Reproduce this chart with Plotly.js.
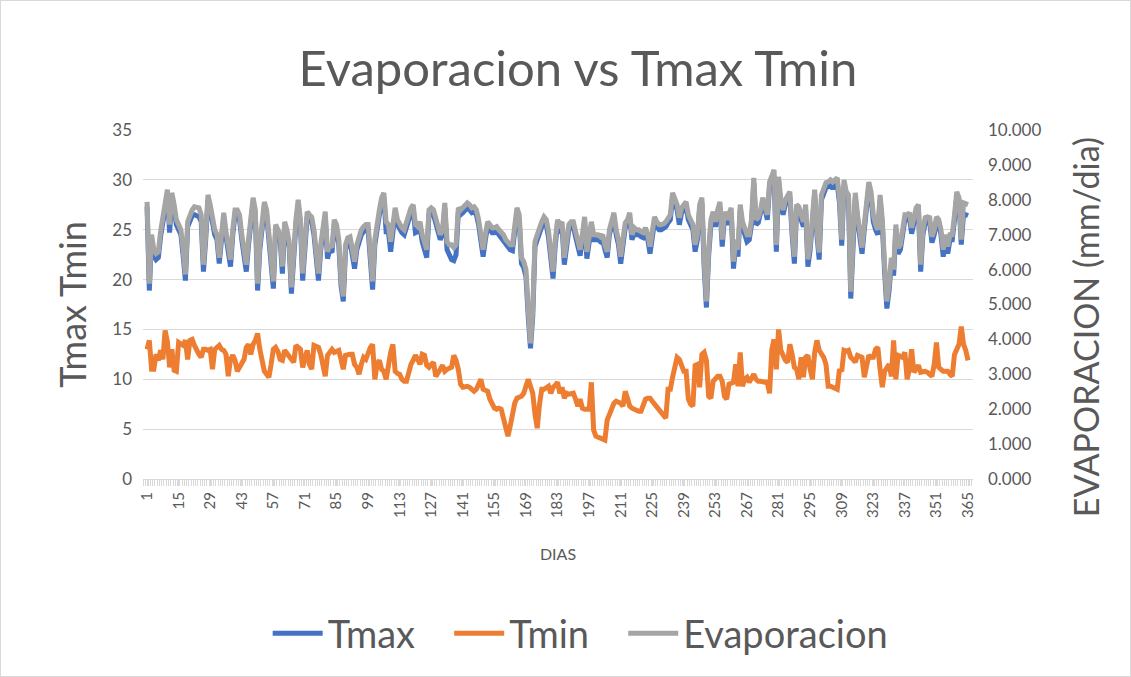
<!DOCTYPE html>
<html>
<head>
<meta charset="utf-8">
<script src="https://cdn.plot.ly/plotly-3.0.1.min.js"></script>
<style>
html,body{margin:0;padding:0;background:#fff;}
#chart{width:1131px;height:677px;box-sizing:border-box;border:1px solid #d9d9d9;}
</style>
</head>
<body>
<div id="chart"></div>
<script>
var tmax = [
27.3,18.9,24,22.4,22,22.2,24.3,25.7,27,28.5,
24.7,28.2,27,25.5,25,24.5,22.4,19.9,25.3,25.9,
26.4,26.5,26.4,26.3,25.8,20.8,24,28,27,25.3,
24.5,24,21.6,24,26.2,24.3,22.6,21.3,24.5,26.5,
26.4,26,24,21.9,20.8,23.5,25.5,27.7,26.5,18.9,
23,25.5,27.2,26.5,24,20.9,19.1,25,24.5,24,
20.6,25.3,24.5,23.3,18.6,23,25.5,27.5,25.5,19.9,
24,26.3,26,25.8,24.5,21.9,19.9,23,25,26.3,
22.1,23,22.7,25.5,25,23.5,19.4,17.8,23,23.7,
23.8,22.5,21.1,23,24,24.5,24.8,25,25,22.4,
19,23.5,25.3,26.5,27.7,28.2,24.8,24.8,22.8,25,
26.7,25.5,25,24.7,24.5,25.3,26,26.7,27,24.7,
24.8,25.3,23.8,22.8,22.2,26.5,26.7,26.5,25.5,24.5,
24,24.5,27.2,23,22.4,22,21.9,22.5,26.7,26.5,
26.7,27,27.2,27,26.7,26.8,26.5,25.5,23.3,22.3,
24,25.3,25,24.7,24.7,24.8,24.5,24.2,24,23.5,
23.3,23,22.9,25,26.7,26,21.6,21.2,20.3,16.3,
13.1,16.3,23.3,24,24.8,25.3,25.8,25.5,24.2,22.4,
20.1,23.5,25.5,25,25.3,21.5,23,25,25.3,25.3,
24.3,23.5,22.4,24,25.8,22.1,24,25.3,24,24,
24,23.8,24,23,22.2,24.5,25.3,26.2,24.5,23.5,
21.6,23.5,25.2,25.5,26.2,24,24.7,24.5,24.5,24.3,
24.2,24.7,24,22.6,24,25.8,25.3,25,25,25.1,
25.3,25.7,26,28.2,27.7,27,25.5,26.7,27,27.3,
26,25.5,25,22.8,24,27,27.7,21.3,17.2,22.4,
25.5,26.3,25.3,26.5,27.3,23.3,26.3,25.5,26,26.7,
21.1,23.5,22.3,27,25.3,24.5,23.8,24,25.5,29.7,
25.5,25.7,26.5,27.7,27,26,29.3,30,30.4,22.8,
29.8,27.5,26.5,27.5,28,28.3,24.5,21.6,27,26.8,
26,25.3,27,21.3,23,26,28.5,24.5,22,28,
28.5,29.2,29.3,29.5,29.1,29.5,29.6,27.7,23.4,29.5,
28.3,28,18.1,23.4,28.2,26,24.4,22.6,25,27.5,
29.3,28.3,25.8,25,24.5,28,25.4,20.8,17.1,18.9,
21.6,20.4,25,22.6,23,24.5,26,26,26.2,24.6,
25.5,26.7,27,20.8,24.5,25.7,25.8,25.7,23.7,24.5,
25.8,25.5,24.5,22.3,24,22.6,24,24,26,28.3,
27.7,23.5,26.6,26.5,26.4
];
var tmin = [
13,13.9,11,11,12.5,11.9,12.9,12,14.9,13.8,
11.2,13,10.9,10.8,13.7,13.5,13.4,13.9,12,13.9,
14,13.4,12.8,12.5,12.2,13,13,12.9,13,11,
13,13.2,13.4,13,12.9,12.5,10.3,12,12.4,11.9,
10.8,11.2,11.5,12,13.2,13.5,12.5,13.5,13.9,14.6,
13,11.9,10.8,10.5,10.2,11.5,13,13.2,12.8,12,
11.9,12.9,12.6,12.4,11.9,11.7,13.4,13.2,13,11.2,
12,12.9,11.5,11,13.4,13.3,13.2,12.5,11,10.3,
12.4,12.8,13,12.7,12.8,12.9,12,11,12.4,12.5,
12.5,12.5,11.5,11.2,10.5,11.5,12.2,12,12.8,13.2,
13.5,10,11.5,11.9,11,10.8,10,11.5,12.7,13.5,
10.8,10.6,10.5,10,9.8,9.8,10.7,11.5,11.9,12.4,
12,11.5,12.5,12.4,11.4,11.2,11.5,11.7,10.3,10.8,
11,11.4,10.8,11,11.1,11.2,12.4,11.9,11,9.5,
9.2,9.3,9.3,9.2,9,8.8,9,9.5,10,9,
8.9,8.8,8,7.4,7.1,7,7.1,7,6.1,4.8,
4.3,5.3,6.5,7.6,8.1,8.2,8.3,8.6,9.2,10,
9.3,8.6,6.5,5.1,7.5,9,9,9.2,9.3,8.6,
9.2,9.4,9.7,8.6,9.2,8.1,8.6,8.5,8.5,8.6,
8,7.3,8,7.1,7,7,7,9.7,4.9,4.3,
4.2,4.1,4.1,3.9,5.9,6.5,7.2,7.6,7.8,7.7,
7.6,7.3,8.8,8.1,7.3,7.1,7,6.8,6.8,6.8,
7.5,8,8.1,8.1,7.8,7.5,7.3,7,6.7,6.3,
6.1,9,9,10.2,11.2,12.2,12,11.5,10.8,10.8,
8,7.5,7.3,11.4,11.5,9.2,12.5,12.7,11.9,8.3,
8.1,9.8,10,10.3,10.3,9.8,8.3,8,9.5,9.6,
9.7,11.5,9.3,12.7,9.3,10,10.2,9.7,10.2,10.5,
10,9.8,9.8,9.7,9.7,9.7,8.6,13,14,11,
15,12.9,12.2,11.9,11.7,13.5,12.5,11.2,11,10,
12.2,10.2,12.2,12.4,11,10,12.7,13.9,12.9,12.5,
12.2,11.5,9.3,9.3,9.2,9.2,9,11,10.8,12.9,
12.8,12.9,12.2,12,11.7,12.4,12.3,12.2,10.2,11.5,
12.4,12.2,12.2,13,13.2,11,9.2,10.8,11.2,11.5,
10.3,13.9,10,12.4,12.3,12.2,12.7,10,11,13,
10.7,11,11.4,10.7,10.8,10.8,10.7,10.5,10.3,11.5,
13.7,11.2,11,10.8,10.8,10.8,10.5,10.3,12.5,12.9,
13.5,15.3,13.5,12.9,11.9
];
var evaporacion = [
7.94,5.60,7.00,6.57,6.46,6.51,7.09,7.49,7.86,8.29,
7.29,8.20,7.86,7.43,7.29,7.14,6.57,5.86,7.37,7.57,
7.71,7.80,7.77,7.77,7.57,6.14,7.00,8.14,7.86,7.37,
7.14,7.00,6.34,7.00,7.63,7.09,6.63,6.29,7.14,7.71,
7.71,7.57,7.00,6.43,6.14,6.86,7.43,8.06,7.71,5.60,
6.71,7.43,7.94,7.71,7.00,6.14,5.66,7.29,7.14,7.00,
6.09,7.37,7.14,6.80,5.49,6.71,7.43,8.00,7.43,5.89,
7.00,7.66,7.57,7.51,7.14,6.43,5.89,6.71,7.29,7.66,
6.51,6.71,6.63,7.43,7.29,6.86,5.71,5.23,6.71,6.91,
6.94,6.57,6.23,6.71,7.00,7.14,7.23,7.29,7.29,6.57,
5.66,6.86,7.37,7.71,8.06,8.20,7.37,7.29,6.80,7.29,
7.77,7.43,7.29,7.20,7.14,7.37,7.57,7.77,7.86,7.29,
7.23,7.37,7.00,6.71,6.57,7.71,7.77,7.71,7.43,7.20,
7.00,7.14,7.91,6.80,6.71,6.71,6.63,6.71,7.77,7.71,
7.77,7.86,7.91,7.86,7.77,7.80,7.71,7.43,6.86,6.57,
7.00,7.37,7.29,7.20,7.20,7.23,7.14,7.06,7.00,6.86,
6.80,6.71,6.71,7.29,7.77,7.57,6.34,6.23,6.00,4.86,
3.89,4.86,6.80,7.00,7.23,7.37,7.51,7.43,7.09,6.57,
5.94,6.86,7.43,7.29,7.37,6.34,6.71,7.29,7.37,7.37,
7.09,6.86,6.57,7.00,7.51,6.51,7.00,7.37,7.00,7.00,
7.00,6.94,7.00,6.71,6.51,7.14,7.37,7.63,7.14,6.86,
6.37,6.86,7.34,7.43,7.63,7.00,7.20,7.14,7.14,7.09,
7.06,7.20,7.00,6.66,7.00,7.51,7.37,7.29,7.29,7.31,
7.37,7.49,7.57,8.20,8.06,7.86,7.49,7.77,7.86,7.94,
7.57,7.43,7.29,6.71,7.00,7.86,8.06,6.29,5.09,6.57,
7.43,7.66,7.37,7.71,7.94,6.86,7.66,7.43,7.57,7.77,
6.23,6.86,6.57,7.86,7.37,7.14,7.00,7.00,7.43,8.63,
7.43,7.49,7.71,8.06,7.86,7.57,8.51,8.71,8.86,6.71,
8.66,8.00,7.71,8.00,8.14,8.23,7.14,6.37,7.86,7.80,
7.57,7.37,7.86,6.29,6.71,7.57,8.29,7.14,6.49,8.14,
8.29,8.49,8.51,8.57,8.51,8.57,8.63,8.06,6.86,8.57,
8.23,8.14,5.37,6.86,8.20,7.57,7.14,6.63,7.29,8.00,
8.51,8.23,7.57,7.29,7.14,8.14,7.43,6.14,5.09,5.57,
6.34,6.00,7.29,6.63,6.71,7.14,7.57,7.57,7.63,7.20,
7.43,7.77,7.86,6.14,7.14,7.49,7.51,7.49,6.94,7.14,
7.51,7.43,7.14,6.57,7.00,6.66,7.00,7.00,7.57,8.23,
8.06,6.86,7.91,7.89,7.86
];
var dias = [];
for (var i = 1; i <= 365; i++) dias.push(i);
var tickDias = [1,15,29,43,57,71,85,99,113,127,141,155,169,183,197,211,225,239,253,267,281,295,309,323,337,351,365];
var leftTicks = [0,5,10,15,20,25,30,35];
var rightTicks = [0,1,2,3,4,5,6,7,8,9,10];

var FONT = "Lato, 'Liberation Sans', sans-serif";
var GREY = "#595959";
var PAD = "\u00a0\u00a0\u00a0";

var traces = [
  {x: dias, y: tmax, name: "Tmax" + PAD, type: "scatter", mode: "lines",
   line: {color: "#4472C4", width: 5}, yaxis: "y"},
  {x: dias, y: tmin, name: "Tmin" + PAD, type: "scatter", mode: "lines",
   line: {color: "#ED7D31", width: 5}, yaxis: "y"},
  {x: dias, y: evaporacion, name: "Evaporacion", type: "scatter", mode: "lines",
   line: {color: "#A5A5A5", width: 5}, yaxis: "y2"}
];

var layout = {
  width: 1129, height: 675,
  paper_bgcolor: "#fff", plot_bgcolor: "#fff",
  font: {family: FONT, color: GREY},
  margin: {l: 142, r: 157, t: 129, b: 197, pad: 0},
  showlegend: true,
  title: {text: "Evaporacion vs Tmax Tmin", font: {size: 49, color: GREY, family: FONT},
          x: 0.511, xanchor: "center", y: 0.9, yanchor: "middle", xref: "container", yref: "container"},
  xaxis: {
    range: [-0.8, 367.2],
    tickmode: "array", tickvals: tickDias, ticktext: tickDias.map(String),
    tickangle: -90, tickfont: {size: 15, color: GREY},
    ticks: "outside", ticklen: 6, tickcolor: "#d9d9d9", tickwidth: 1,
    minor: {tickmode: "linear", dtick: 1, tick0: 0.5, ticks: "outside", ticklen: 6, tickcolor: "#d9d9d9", tickwidth: 1, showgrid: false},
    showgrid: false, zeroline: false,
    showline: true, linecolor: "#d9d9d9", linewidth: 1,
    title: {text: "DIAS", font: {size: 16, color: GREY}, standoff: 31}
  },
  yaxis: {
    range: [0, 35], tickvals: leftTicks,
    tickfont: {size: 17, color: GREY}, ticklabelstandoff: 10,
    showgrid: true, gridcolor: "#d9d9d9", gridwidth: 1, zeroline: false,
    ticks: "", showline: false,
    title: {text: "Tmax Tmin", font: {size: 36, color: GREY}, standoff: 14}
  },
  yaxis2: {
    range: [0, 10], tickvals: rightTicks, tickformat: ".3f",
    overlaying: "y", side: "right",
    tickfont: {size: 17, color: GREY}, ticklabelstandoff: 14,
    showgrid: false, zeroline: false, ticks: "", showline: false
  },
  annotations: [{
    text: "EVAPORACION (mm/dia)", textangle: -90, showarrow: false,
    xref: "paper", yref: "paper", x: 1.135, y: 0.435, xanchor: "center", yanchor: "middle",
    font: {size: 34, color: GREY, family: FONT}
  }],
  legend: {
    orientation: "h", x: 0.513, xanchor: "center", xref: "container",
    y: 0.063, yanchor: "middle", yref: "container",
    font: {size: 38, color: GREY}, itemwidth: 50, tracegroupgap: 0
  }
};

Plotly.newPlot("chart", traces, layout, {displayModeBar: false, staticPlot: true});
</script>
</body>
</html>
